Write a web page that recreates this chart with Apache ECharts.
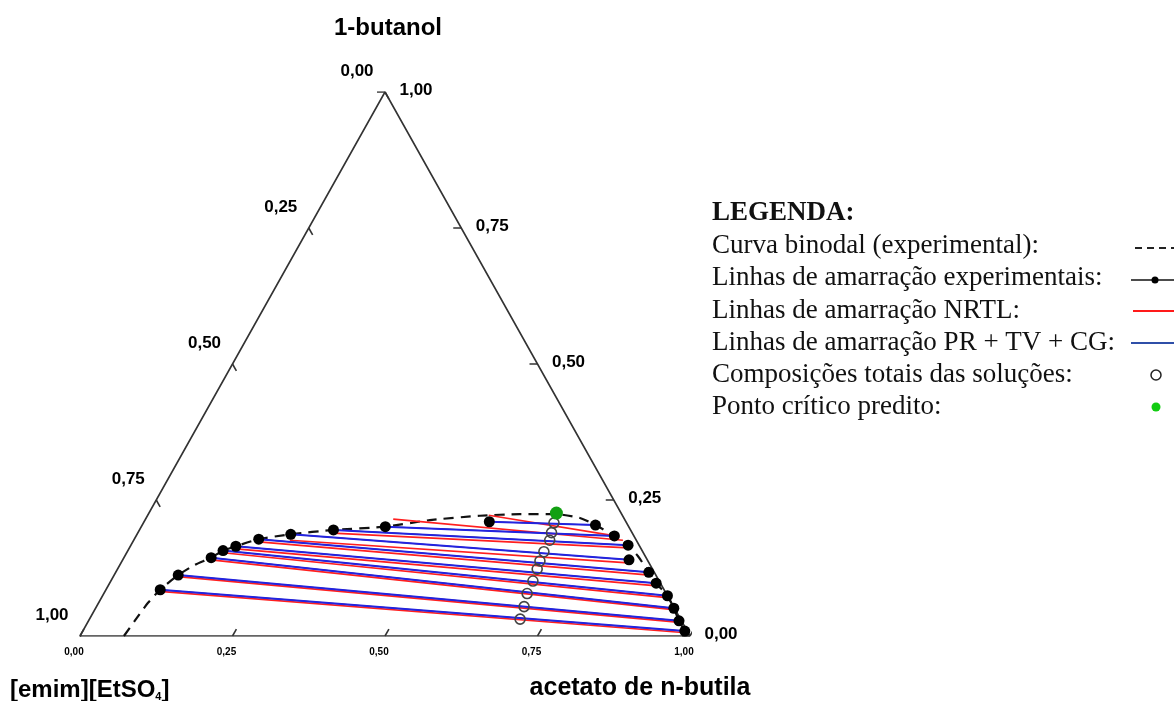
<!DOCTYPE html>
<html><head><meta charset="utf-8">
<script src="https://cdn.jsdelivr.net/npm/echarts@6/dist/echarts.min.js"></script>
<style>html,body{margin:0;padding:0;background:#fff}#c{width:1174px;height:701px}</style>
</head><body><div id="c"></div>
<script>
// ---- axis ticks (fractions on each side of the ternary diagram)
const ticks = [0, 0.25, 0.5, 0.75, 1];
const tickLabels = ['0,00', '0,25', '0,50', '0,75', '1,00'];

// ---- all compositions below are [x_1-butanol, x_acetato de n-butila]
const binodal = [[0.000,0.072],[0.029,0.076],[0.061,0.081],[0.085,0.089],[0.112,0.105],[0.131,0.123],
  [0.144,0.143],[0.157,0.156],[0.165,0.173],[0.178,0.204],[0.187,0.252],[0.195,0.318],[0.201,0.400],
  [0.213,0.467],[0.221,0.545],[0.224,0.609],[0.224,0.668],[0.217,0.711],[0.204,0.743],[0.184,0.784],
  [0.165,0.816],[0.147,0.841],[0.117,0.874],[0.097,0.896],[0.074,0.926],[0.051,0.948],[0.028,0.968],
  [0.009,0.987]];

// experimental tie lines: IL-rich phase / ester-rich phase
const expIL = [[0.085,0.089],[0.112,0.105],[0.144,0.143],[0.157,0.156],[0.165,0.173],[0.178,0.204],
  [0.187,0.252],[0.195,0.318],[0.201,0.400],[0.210,0.566]];
const expEster = [[0.009,0.987],[0.028,0.968],[0.051,0.948],[0.074,0.926],[0.097,0.896],[0.117,0.874],
  [0.140,0.830],[0.167,0.815],[0.184,0.784],[0.204,0.743]];

// NRTL tie lines
const nrtlIL = [[0.082,0.090],[0.109,0.106],[0.140,0.145],[0.153,0.158],[0.160,0.176],[0.173,0.207],
  [0.176,0.256],[0.189,0.320],[0.215,0.406],[0.222,0.559]];
const nrtlEster = [[0.006,0.990],[0.025,0.971],[0.048,0.952],[0.070,0.931],[0.092,0.900],[0.112,0.878],
  [0.134,0.838],[0.162,0.818],[0.176,0.802],[0.184,0.785]];

// PR + TV + CG tie lines
const prIL = [[0.085,0.089],[0.112,0.105],[0.144,0.143],[0.157,0.156],[0.165,0.173],[0.178,0.204],
  [0.187,0.252],[0.195,0.318],[0.201,0.400],[0.210,0.566]];
const prEster = [[0.009,0.987],[0.028,0.968],[0.051,0.948],[0.074,0.926],[0.097,0.896],[0.117,0.874],
  [0.140,0.830],[0.167,0.815],[0.184,0.784],[0.204,0.743]];

// overall (feed) compositions
const feeds = [[0.031,0.706],[0.054,0.701],[0.078,0.694],[0.101,0.692],[0.123,0.688],[0.138,0.685],
  [0.155,0.683],[0.176,0.682],[0.190,0.678],[0.208,0.673]];

// predicted critical point
const critical = [[0.226,0.668]];

// ---- ternary -> cartesian (x: acetate + butanol/2, y: butanol)
function toXY(p) { return [p[1] + p[0] / 2, p[0]]; }
function segs(A, B) { return A.map((p, i) => ({ coords: [toXY(p), toXY(B[i])] })); }

const GW = 610, GH = 544, TICK = 8;
const ux = TICK * 305 / 623.6 / GW, uy = TICK * 544 / 623.6 / GH;
const tickSegs = [];
const tickLabelData = [];
ticks.forEach((t, i) => {
  // bottom axis: acetate fraction
  tickSegs.push({ coords: [[t, 0], [t + ux, uy]] });
  tickLabelData.push({ value: [t, 0], label: { formatter: tickLabels[i], offset: [-6, 16], fontSize: 10 } });
  // right axis: butanol fraction
  tickSegs.push({ coords: [[1 - t / 2, t], [1 - t / 2 - TICK / GW, t]] });
  tickLabelData.push({ value: [1 - t / 2, t], label: { formatter: tickLabels[i], offset: [31, -2], fontSize: 17 } });
  // left axis: IL fraction
  tickSegs.push({ coords: [[(1 - t) / 2, 1 - t], [(1 - t) / 2 + ux, 1 - t - uy]] });
  tickLabelData.push({ value: [(1 - t) / 2, 1 - t], label: { formatter: tickLabels[i], offset: [-28, -21], fontSize: 17 } });
});

const chart = echarts.init(document.getElementById('c'), null, { renderer: 'canvas' });
const sans = 'Liberation Sans, Arial, sans-serif';
const serif = 'Liberation Serif, Times New Roman, serif';

const legendRows = [
  { text: 'Curva binodal (experimental):', y: 246 },
  { text: 'Linhas de amarração experimentais:', y: 278 },
  { text: 'Linhas de amarração NRTL:', y: 311 },
  { text: 'Linhas de amarração PR + TV + CG:', y: 343 },
  { text: 'Composições totais das soluções:', y: 375 },
  { text: 'Ponto crítico predito:', y: 407 }
];

const graphics = [
  { type: 'text', x: 388, y: 28, style: { text: '1-butanol', font: 'bold 24px ' + sans, fill: '#000', align: 'center', verticalAlign: 'middle', textAlign: 'center', textVerticalAlign: 'middle' } },
  { type: 'text', x: 10, y: 688, style: { text: '{a|[emim][EtSO}{s|4}{a|]}', fill: '#000', align: 'left', verticalAlign: 'middle', textAlign: 'left', textVerticalAlign: 'middle',
      rich: { a: { fontSize: 24, fontWeight: 'bold', fontFamily: sans, lineHeight: 28, verticalAlign: 'bottom', fill: '#000' },
              s: { fontSize: 11, fontWeight: 'bold', fontFamily: sans, lineHeight: 14, verticalAlign: 'bottom', fill: '#000' } } } },
  { type: 'text', x: 640, y: 688, style: { text: 'acetato de n-butila', font: 'bold 25px ' + sans, fill: '#000', align: 'center', verticalAlign: 'middle', textAlign: 'center', textVerticalAlign: 'middle' } },
  { type: 'text', x: 712, y: 213, style: { text: 'LEGENDA:', font: 'bold 27px ' + serif, fill: '#111', align: 'left', verticalAlign: 'middle', textAlign: 'left', textVerticalAlign: 'middle' } }
];
legendRows.forEach(r => graphics.push({ type: 'text', x: 712, y: r.y, style: { text: r.text, font: '27px ' + serif, fill: '#111', align: 'left', verticalAlign: 'middle', textAlign: 'left', textVerticalAlign: 'middle' } }));
graphics.push(
  { type: 'line', shape: { x1: 1135, y1: 248, x2: 1176, y2: 248 }, style: { stroke: '#222', lineWidth: 2, lineDash: [7, 5] } },
  { type: 'line', shape: { x1: 1131, y1: 280, x2: 1176, y2: 280 }, style: { stroke: '#111', lineWidth: 1.5 } },
  { type: 'circle', shape: { cx: 1155, cy: 280, r: 3.5 }, style: { fill: '#000' } },
  { type: 'line', shape: { x1: 1133, y1: 311, x2: 1176, y2: 311 }, style: { stroke: '#ff1a1a', lineWidth: 2 } },
  { type: 'line', shape: { x1: 1131, y1: 343, x2: 1176, y2: 343 }, style: { stroke: '#2f4fa8', lineWidth: 2 } },
  { type: 'circle', shape: { cx: 1156, cy: 375, r: 5 }, style: { fill: '#fff', stroke: '#222', lineWidth: 1.5 } },
  { type: 'circle', shape: { cx: 1156, cy: 407, r: 4.5 }, style: { fill: '#11cc11' } }
);

chart.setOption({
  animation: false,
  backgroundColor: '#fff',
  grid: { left: 80, top: 92, width: GW, height: GH },
  xAxis: { type: 'value', min: 0, max: 1, show: false },
  yAxis: { type: 'value', min: 0, max: 1, show: false },
  graphic: graphics,
  series: [
    { type: 'line', data: [[0, 0], [1, 0], [0.5, 1], [0, 0]], symbol: 'none', silent: true,
      lineStyle: { color: '#333', width: 1.6 }, z: 1 },
    { type: 'lines', coordinateSystem: 'cartesian2d', data: tickSegs, silent: true,
      lineStyle: { color: '#333', width: 1.6, opacity: 1 }, z: 1 },
    { type: 'scatter', data: tickLabelData, symbolSize: 1, silent: true, itemStyle: { color: 'transparent' },
      label: { show: true, position: 'inside', fontFamily: sans, fontWeight: 'bold', color: '#000', opacity: 1, textBorderWidth: 0 }, z: 1 },
    { type: 'line', data: binodal.map(toXY), symbol: 'none', smooth: 0.2, silent: true,
      lineStyle: { color: '#111', width: 2.2, type: [10, 7] }, z: 2 },
    { type: 'lines', coordinateSystem: 'cartesian2d', data: segs(nrtlIL, nrtlEster), silent: true,
      lineStyle: { color: '#ff1f1f', width: 1.7, opacity: 1 }, z: 3 },
    { type: 'lines', coordinateSystem: 'cartesian2d', data: segs(expIL, expEster), silent: true,
      lineStyle: { color: '#000', width: 1, opacity: 1 }, z: 4 },
    { type: 'lines', coordinateSystem: 'cartesian2d', data: segs(prIL, prEster), silent: true,
      lineStyle: { color: '#2323e0', width: 2, opacity: 1 }, z: 5 },
    { type: 'scatter', data: expIL.concat(expEster).map(toXY), symbolSize: 11, silent: true,
      itemStyle: { color: '#000', opacity: 1 }, z: 6 },
    { type: 'scatter', data: feeds.map(toXY), symbolSize: 10, silent: true,
      itemStyle: { color: 'rgba(255,255,255,0)', borderColor: '#444', borderWidth: 1.6, opacity: 1 }, z: 7 },
    { type: 'scatter', data: critical.map(toXY), symbolSize: 13, silent: true,
      itemStyle: { color: '#12a012', opacity: 1 }, z: 8 }
  ]
});
</script>
</body></html>
